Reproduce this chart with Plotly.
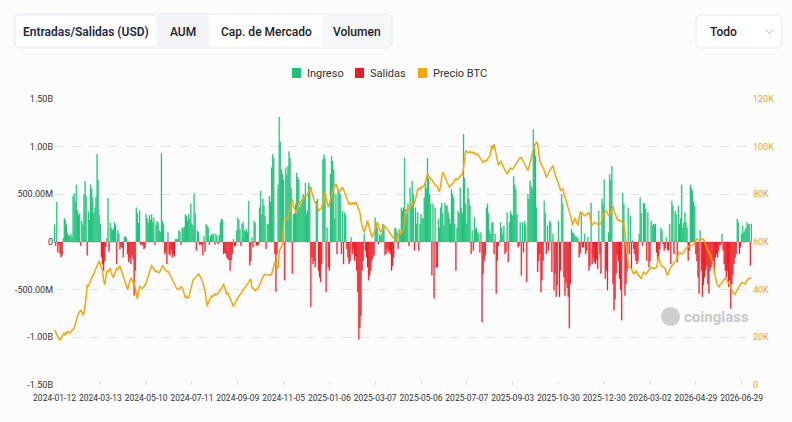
import plotly.graph_objects as go

# x-axis labels (one every 42 trading days)
tick_labels = ["2024-01-12", "2024-03-13", "2024-05-10", "2024-07-11", "2024-09-09",
               "2024-11-05", "2025-01-06", "2025-03-07", "2025-05-06", "2025-07-07",
               "2025-09-03", "2025-10-30", "2025-12-30", "2026-03-02", "2026-04-29",
               "2026-06-29"]
left_ticks = [-1500, -1000, -500, 0, 500, 1000, 1500]
left_labels = ["-1.50B", "-1.00B", "-500.00M", "0", "500.00M", "1.00B", "1.50B"]
right_ticks = [0, 20, 40, 60, 80, 100, 120]
right_labels = ["0", "20K", "40K", "60K", "80K", "100K", "120K"]

# daily net flow, millions USD
flow_musd = [
    180, -40, 420, -107, -30, -120, -160, -140, 40, 250, 230, 180, 90, 70, 60, 80, 50, 480, 510, 420,
    600, 330, 280, 300, -38, 220, 180, 500, 640, 480, -140, 320, 230, 600, 560, 465, 300, 360, 470, 920,
    650, 280, 190, -160, -230, -300, -200, -50, 40, 460, -100, 200, 150, 120, 140, 205, 180, -230, 120, 90,
    -73, -50, -60, -160, 55, 55, 40, -125, -210, -170, -230, -140, -180, -560, -300, 360, 300, 200, 330,
    -30, -20, -35, -73, -60, 290, 250, 200, 280, 230, 290, 210, 255, -30, 180, 220, 200, 120, 100, 930,
    220, 180, -125, -100, -230, 100, -125, -140, -90, -160, -120, -150, 30, 25, 35, 120, 110, -30, 150, 140,
    160, 290, 270, 220, 290, 250, 400, 190, 170, 510, 300, -90, 120, 100, -30, -20, -35, -140, 60, -100,
    190, 170, 150, -30, 60, 80, 70, 90, -25, 80, 60, -20, 70, 205, 240, 230, -125, -110, -125, -160, -180,
    -190, -300, -190, -125, 30, -40, -40, 120, 255, 230, 135, -40, 190, 205, 120, 110, 135, 100, 430, -245,
    -200, 50, -55, 220, 200, -40, -30, -30, 360, 535, 290, 450, 380, 270, -73, 190, 180, 480, 420, 780,
    920, 880, -125, -520, -125, 600, 1310, 1050, 760, 710, 650, -400, 780, 700, 795, 950, 880, 570, -330, 290,
    300, 400, 725, 680, 655, 360, 400, 450, 500, 480, 620, 290, 330, 620, 580, -680, -160, -230, -200, -265, 430,
    450, -300, -370, -420, -230, 865, 915, 880, -525, 150, -265, -300, 710, 900, 850, 760, 240, 500, -125, 550,
    520, 500, -125, 325, -230, 310, 280, -73, -160, -230, -200, 50, -125, -73, -195, -150, -300, -525, -1020, -900,
    -770, -300, -195, 85, -90, -160, -265, -400, -350, -300, -195, -160, -140, 255, 170, 150, -20, 85, 60, 85,
    190, 160, -140, -120, -73, -107, -90, -125, -300, -250, -160, 150, 140, 100, -73, 135, 90, 360, 330, 360,
    880, 275, 300, 400, -40, 570, 380, 640, 500, -90, 360, 190, 310, -90, 190, 290, 240, 250, 465, 620,
    560, 880, 670, 500, 400, -350, 400, -590, 360, -265, -265, 240, 150, 360, 410, 300, 170, 410, 380, 380,
    310, 250, 190, 550, 500, 465, 190, -300, 150, 325, 300, 570, 360, 300, 1130, 670, 400, 190, 570, 450,
    380, -125, 120, -90, 255, 135, 150, 100, 85, -107, 100, -840, -330, -200, -140, 360, 400, 300, 120, 80, 205,
    205, -125, 85, -540, -195, -40, 15, 205, 150, 85, 170, -125, -100, 310, -210, 205, 325, 290, 275, 690,
    600, 550, 290, -55, -40, 205, -350, 205, -107, 220, 180, -420, 500, 450, 640, 585, 560, 1180, 1020, 900,
    360, -315, -200, -125, -525, -400, -195, 430, 300, -125, 170, -90, 220, 200, -315, 85, -505, -330, -575, -450,
    220, -575, -300, 500, 400, -370, -560, -420, -480, -575, -905, -440, 135, 100, 90, 65, 60, 50, 40, -160, -120,
    310, -55, -55, 85, -125, -90, 50, -300, -250, 410, -230, -160, -210, -230, -180, -280, 325, -125, -330, 450,
    400, 655, -385, -300, -505, 100, 710, 650, 795, -440, -715, -600, -330, -125, -200, -385, -500, -820, 515, 400,
    -560, -440, -300, 360, -125, 275, -280, 15, -73, -125, -195, -230, -200, 85, 465, 300, -40, 400, 410, 350,
    -195, 310, -265, -200, 220, 170, 190, 180, 190, -107, -195, -150, -73, 150, 120, -20, -90, -60, 50, -80,
    -90, 190, -230, 430, 380, -125, 325, 290, -210, 380, 190, 250, 600, 150, 200, 310, 205, 150, -195, -90,
    600, 560, 535, 430, 380, -125, -200, -370, -540, 120, -300, -575, -450, -370, -300, -250, -440, -540, -300, -265,
    -230, -200, -330, -160, -125, -160, -90, -40, -30, 85, -90, -230, -300, -370, -300, -470, -400, -700, -440, -350,
    -230, -170, -125, 240, 205, -125, -55, 85, 170, 100, 120, 150, 205, 180, 190, -245, 190,
]

# BTC price, thousands USD
btc_price_k = [
    23, 22.4, 21, 20, 19.5, 18.9, 19.5, 20.5, 21.5, 21, 22, 21.5, 22.5, 22, 21.8, 22.4, 22.8, 23.2, 23.8, 25.5,
    27.5, 29, 30, 31, 31.5, 30.5, 29.5, 30, 33, 37, 42, 41.5, 42.5, 44, 45, 45.5, 47, 48, 49, 50,
    51, 52, 50.5, 49, 48, 44, 42, 45, 48, 47.5, 48.5, 49, 47, 46, 45, 46.5, 48, 49, 48.5, 49.5,
    50, 48.5, 47, 46, 45, 43, 41.5, 40, 42, 43.5, 45, 44, 43, 43, 40, 37, 36, 39, 41.5,
    41, 40.3, 40.8, 41.2, 41.7, 43, 44.5, 46, 47.5, 49, 50, 49.5, 48.5, 48, 47.5, 47.8, 47.2, 47.2, 48, 49,
    50, 49.5, 48.5, 48, 47.5, 47.8, 47, 46, 45.2, 44.5, 43, 42, 41, 40.5, 40.2, 40, 40.6, 41.2, 41, 39.5,
    37.5, 36.7, 37, 36.5, 36.7, 38.5, 41, 43, 44, 44.5, 45, 45.5, 46, 46.5, 46, 45, 44.5, 43, 41, 39.6,
    36, 33, 34.5, 35.5, 36.7, 37.5, 37, 37.5, 38.2, 37.8, 38, 38.5, 39, 39.6, 40.5, 41.5, 42.4, 41, 39.5, 38, 38.5,
    37.5, 36.7, 35.5, 34, 33, 34, 35, 36, 36.5, 37.2, 38, 38.6, 39.2, 40, 40.6, 41.2, 41.8, 42.4, 43, 43.8,
    44.5, 41, 40.5, 40, 39.6, 40, 40.5, 41, 42, 43.2, 44.5, 45.2, 46, 46.5, 46.2, 46, 46, 46.3, 46.2, 46.5,
    48, 50, 51.5, 50.5, 49.5, 49, 56, 57, 58, 59, 69, 69.5, 69, 69.7, 70.5, 72, 74, 76, 78, 75,
    74, 73, 72, 74, 76, 76.5, 77, 77.4, 78, 78.5, 79, 79.5, 80, 81, 82, 83, 81, 79, 77.4, 76.5, 76,
    75, 73, 73.5, 74, 74.6, 76.5, 79, 81, 78.5, 76, 74.6, 76, 78, 79.5, 81, 82.5, 83.5, 84.4, 83, 82,
    81, 81.5, 82.5, 83, 82, 80.5, 79, 78, 77, 76, 76.5, 75.8, 76, 76.5, 75.5, 76.7, 76, 75, 74, 72.5,
    69, 66, 65, 64, 65.5, 67.5, 69, 67, 65.5, 63.5, 62, 62.8, 63.8, 64.8, 66.5, 68.4, 67, 65.5, 64, 65,
    66, 67, 66.5, 66, 65.5, 64.8, 64, 63.4, 62.5, 62, 61.3, 61, 60.5, 61.5, 63, 64, 63.5, 64.2, 64, 65.5,
    70, 73.8, 73, 73.5, 73.8, 74.5, 75.5, 76, 76.2, 76, 78, 80, 82, 82.5, 82, 83, 82.8, 83.5, 83.7, 85,
    87, 88.6, 88, 87, 86.5, 86, 85, 84.5, 84, 83.7, 83, 82, 81, 84, 87, 89.3, 88.5, 87, 86, 85,
    84, 83, 83.5, 84, 84.4, 85, 86, 86.5, 86, 86.5, 87, 87.5, 88, 88.6, 91, 95, 98.4, 98, 97.5, 97.7,
    98, 97.5, 97.7, 97.2, 97.5, 97, 96.5, 96.8, 96, 95.5, 95, 94, 93.4, 93.8, 94.2, 94, 95, 95.5, 96, 98, 100.5,
    99, 101, 99, 96, 94, 92, 93, 94, 93, 92, 90.6, 90, 89.2, 88.6, 89.5, 90.6, 91, 90.6, 90.6, 91.2,
    92, 93, 94, 94.7, 95, 95.3, 95.5, 94.5, 93.5, 92.8, 91.5, 90.8, 90, 91.5, 92.8, 95, 97, 99, 100.5, 101,
    102, 101, 97, 94, 93, 92, 91.4, 90, 88.5, 87, 88, 89.3, 90, 90.6, 91.5, 92, 90, 88, 87, 86,
    84.5, 83, 81.6, 82, 82.3, 80.5, 79, 77.5, 76, 74.6, 73.5, 72, 69.5, 67, 68.5, 70, 69, 68, 67, 70, 72.5,
    72.5, 72, 71.5, 71, 71.3, 71.5, 72, 72.5, 70, 68, 67, 67.5, 68.3, 68, 67.8, 67.6, 67.2, 67.8, 67.6, 69.5,
    71.8, 72.3, 72.6, 73, 72, 71, 71.8, 72.5, 73.8, 75, 73, 71.5, 70, 69.5, 69, 69.2, 69, 68.5, 68, 67.6,
    64, 60.5, 55, 50, 49.5, 49, 48.7, 47.5, 46.5, 47.2, 48, 47, 46.5, 46, 45.3, 44.5, 46, 47.3, 47, 46.5,
    47, 47.5, 48, 48.7, 49.4, 49, 48.7, 49, 49.2, 49.4, 51.5, 54, 52, 50, 49.8, 49.6, 49.4, 48.5, 47.2, 46,
    47, 48.7, 49.5, 50, 50.8, 51.2, 51.6, 52, 53.5, 54.5, 55.7, 55.2, 55, 55, 56, 56.8, 57.2, 57.7, 58, 58.2,
    58.4, 58.6, 58.8, 59, 59.8, 60.5, 61.3, 61, 60.8, 60.5, 61, 61.2, 61.3, 60, 58.5, 57, 56.3, 55.7, 55, 53.5,
    52, 50.8, 47.5, 44.5, 43, 42, 41, 41.8, 42.4, 43, 43.8, 44.4, 45, 44.3, 43.6, 43, 42, 40.8, 39.6, 39,
    38.5, 38, 39, 40, 41, 41.7, 42.4, 43, 42.8, 42.6, 42.4, 43, 43.8, 44.5, 44.7, 44.8, 45,
]

GREEN = "#1fc27a"
RED = "#ee1b24"
ORANGE = "#f4a70c"

days = list(range(len(flow_musd)))
ingreso = [v if v > 0 else None for v in flow_musd]
salidas = [v if v < 0 else None for v in flow_musd]

# plot area in page pixels
L, R, T, B = 54, 752, 99, 385
W, H = 792, 422


def fx(px):
    return (px - L) / (R - L)


def fy(py):
    return (B - py) / (B - T)


def rrect(x0, y0, x1, y1, r):
    # rounded rectangle path in page pixels -> paper coords
    pts = [
        f"M {fx(x0 + r)},{fy(y0)}", f"L {fx(x1 - r)},{fy(y0)}",
        f"Q {fx(x1)},{fy(y0)} {fx(x1)},{fy(y0 + r)}", f"L {fx(x1)},{fy(y1 - r)}",
        f"Q {fx(x1)},{fy(y1)} {fx(x1 - r)},{fy(y1)}", f"L {fx(x0 + r)},{fy(y1)}",
        f"Q {fx(x0)},{fy(y1)} {fx(x0)},{fy(y1 - r)}", f"L {fx(x0)},{fy(y0 + r)}",
        f"Q {fx(x0)},{fy(y0)} {fx(x0 + r)},{fy(y0)}", "Z",
    ]
    return " ".join(pts)


fig = go.Figure()
fig.add_trace(go.Bar(x=days, y=ingreso, name="Ingreso", marker_color=GREEN,
                     marker_line=dict(width=0.3, color=GREEN), showlegend=False))
fig.add_trace(go.Bar(x=days, y=salidas, name="Salidas", marker_color=RED,
                     marker_line=dict(width=0.3, color=RED), showlegend=False))
fig.add_trace(go.Scatter(x=days, y=btc_price_k, name="Precio BTC", yaxis="y2",
                         mode="lines", line=dict(color=ORANGE, width=1.5),
                         showlegend=False))

# legend drawn by hand: swatch + label, page pixels
legend_items = [("Ingreso", GREEN, 292), ("Salidas", RED, 355), ("Precio BTC", ORANGE, 418)]

shapes = [
    dict(type="path", path=rrect(14, 14, 392, 48, 6), xref="paper", yref="paper",
         line=dict(color="#e9eaee", width=1), fillcolor="#ffffff", layer="below"),
    dict(type="path", path=rrect(158, 15, 209, 47, 0), xref="paper", yref="paper",
         line=dict(width=0), fillcolor="#f3f4f7", layer="below"),
    dict(type="path", path=rrect(322, 15, 391, 47, 5), xref="paper", yref="paper",
         line=dict(width=0), fillcolor="#f6f7f9", layer="below"),
    dict(type="path", path=rrect(15, 15, 157, 47, 5), xref="paper", yref="paper",
         line=dict(color="#eceef2", width=1), fillcolor="#ffffff", layer="below"),
    dict(type="path", path=rrect(696, 15, 782, 48, 6), xref="paper", yref="paper",
         line=dict(color="#e7e8ec", width=1), fillcolor="#ffffff", layer="below"),
    dict(type="path", xref="paper", yref="paper", line=dict(color="#b8bcc4", width=1),
         path=f"M {fx(766)},{fy(30)} L {fx(769.5)},{fy(33.5)} L {fx(773)},{fy(30)}"),
    # watermark logo blob
    dict(type="circle", xref="paper", yref="paper", fillcolor="#cfcfcf",
         line=dict(width=0), x0=fx(661), x1=fx(680), y0=fy(326), y1=fy(307)),
]
annotations = [
    dict(text="Entradas/Salidas (USD)", x=fx(86), y=fy(32),
         font=dict(size=12, color="#1b2845", weight=600)),
    dict(text="AUM", x=fx(183), y=fy(32), font=dict(size=12, color="#222", weight=500)),
    dict(text="Cap. de Mercado", x=fx(266), y=fy(32), font=dict(size=12, color="#222", weight=500)),
    dict(text="Volumen", x=fx(357), y=fy(32), font=dict(size=12, color="#222", weight=500)),
    dict(text="Todo", x=fx(708), y=fy(32), xanchor="left",
         font=dict(size=12, color="#222", weight=500)),
    dict(text="<b>coinglass</b>", x=fx(682), y=fy(317), xanchor="left",
         font=dict(size=15, color="#c9c9c9")),
]
for name, color, x0 in legend_items:
    shapes.append(dict(type="rect", xref="paper", yref="paper", fillcolor=color,
                       line=dict(width=0), x0=fx(x0), x1=fx(x0 + 9),
                       y0=fy(78), y1=fy(68)))
    annotations.append(dict(text=name, x=fx(x0 + 13), y=fy(73.5), xanchor="left",
                            font=dict(size=11, color="#333")))

for a in annotations:
    a.update(xref="paper", yref="paper", showarrow=False)
    a.setdefault("xanchor", "center")
    a["yanchor"] = "middle"

fig.update_layout(
    width=W, height=H,
    margin=dict(l=L, r=W - R, t=T, b=H - B, autoexpand=False),
    paper_bgcolor="#fcfcfd", plot_bgcolor="#fcfcfd",
    font=dict(family="Roboto, Inter, sans-serif", size=10, color="#333"),
    barmode="relative", bargap=0.1,
    showlegend=False,
    xaxis=dict(range=[-0.5, len(days) - 0.5], tickvals=days[::42], ticktext=tick_labels,
               tickangle=0, showgrid=False, zeroline=False, showline=False,
               ticks="inside", ticklen=4, tickcolor="#dcdcdc", ticklabelstandoff=6,
               tickfont=dict(size=8.5, color="#333")),
    yaxis=dict(range=[-1500, 1500], tickvals=left_ticks, ticktext=left_labels,
               showgrid=True, gridcolor="#e4e4e4", griddash="dash", gridwidth=1,
               zeroline=False, showline=False, ticks="", tickfont=dict(size=9, color="#333")),
    yaxis2=dict(range=[0, 120], tickvals=right_ticks, ticktext=right_labels,
                overlaying="y", side="right", showgrid=False, zeroline=False,
                showline=False, tickfont=dict(size=9, color=ORANGE)),
    shapes=shapes, annotations=annotations,
)

# the page body has a default 8px margin; drop it so the chart sits at 0,0
fig.write_html("out.html", config={"displayModeBar": False},
               post_script="document.body.style.margin='0';")
